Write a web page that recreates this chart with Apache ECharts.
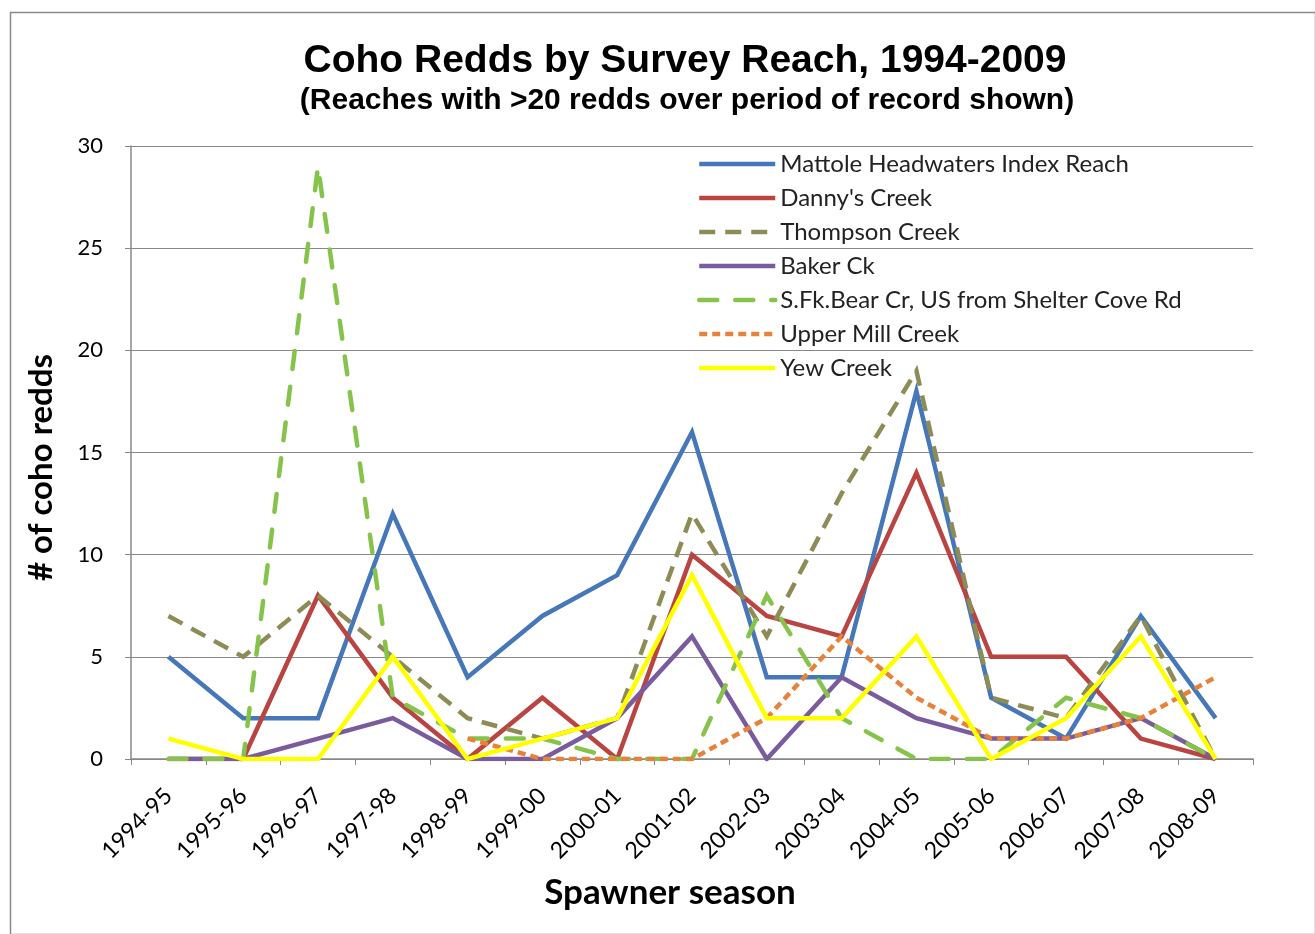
<!DOCTYPE html>
<html>
<head>
<meta charset="utf-8">
<script src="https://cdn.jsdelivr.net/npm/echarts@6/dist/echarts.min.js"></script>
<style>
  html, body { margin: 0; padding: 0; background: #fff; }
  #chart { width: 1315px; height: 934px; }
</style>
</head>
<body>
<div id="chart"></div>
<script>
// Spawner seasons along the x axis
const seasons = ['1994-95', '1995-96', '1996-97', '1997-98', '1998-99', '1999-00', '2000-01',
  '2001-02', '2002-03', '2003-04', '2004-05', '2005-06', '2006-07', '2007-08', '2008-09'];

// Coho redd counts per survey reach
const mattole   = [5, 2, 2, 12, 4, 7, 9, 16, 4, 4, 18, 3, 1, 7, 2];
const dannys    = [0, 0, 8, 3, 0, 3, 0, 10, 7, 6, 14, 5, 5, 1, 0];
const thompson  = [7, 5, 8, 5, 2, 1, 2, 12, 6, 13, 19, 3, 2, 7, 0];
const baker     = [0, 0, 1, 2, 0, 0, 2, 6, 0, 4, 2, 1, 1, 2, 0];
const sfkBear   = [0, 0, 29, 3, 1, 1, 0, 0, 8, 2, 0, 0, 3, 2, 0];
const upperMill = [null, null, null, null, 1, 0, 0, 0, 2, 6, 3, 1, 1, 2, 4];
const yew       = [1, 0, 0, 5, 0, 1, 2, 9, 2, 2, 6, 0, 2, 6, 0];

const yTicks = { min: 0, max: 30, interval: 5 };

function line(name, data, color, type, cap) {
  return {
    name: name,
    type: 'line',
    data: data,
    symbol: 'none',
    connectNulls: false,
    lineStyle: { color: color, width: 4.5, type: type, cap: cap || 'butt', join: 'miter' },
    itemStyle: { color: color },
    emphasis: { disabled: true }
  };
}

const chart = echarts.init(document.getElementById('chart'), null, { renderer: 'canvas' });
chart.setOption({
  animation: false,
  backgroundColor: '#fff',
  textStyle: { fontFamily: 'Lato' },
  title: [
    {
      text: 'Coho Redds by Survey Reach, 1994-2009',
      left: 680, top: 37, textAlign: 'center',
      textStyle: { fontSize: 39, fontWeight: 'bold', color: '#000', fontFamily: 'Liberation Sans' }
    },
    {
      text: '(Reaches with >20 redds over period of record shown)',
      left: 682, top: 81, textAlign: 'center',
      textStyle: { fontSize: 30, fontWeight: 'bold', color: '#000', fontFamily: 'Liberation Sans' }
    }
  ],
  legend: {
    orient: 'vertical',
    left: 692, top: 147,
    itemWidth: 76, itemHeight: 22, itemGap: 10,
    itemStyle: { opacity: 0 },
    lineStyle: { width: 4.5 },
    textStyle: { fontSize: 24, lineHeight: 22, color: '#222', fontFamily: 'Lato' },
    data: ['Mattole Headwaters Index Reach', "Danny's Creek", 'Thompson Creek', 'Baker Ck',
      'S.Fk.Bear Cr, US from Shelter Cove Rd', 'Upper Mill Creek', 'Yew Creek']
  },
  grid: { left: 131, right: 62, top: 146, bottom: 175, containLabel: false },
  xAxis: {
    type: 'category',
    data: seasons,
    boundaryGap: true,
    name: 'Spawner season',
    nameLocation: 'middle',
    nameGap: 116,
    nameTextStyle: { fontSize: 35, fontWeight: 'bold', color: '#000', fontFamily: 'Lato', padding: [0, 44, 0, 0] },
    axisLine: { lineStyle: { color: '#888', width: 1.5 } },
    axisTick: { show: true, length: 6, lineStyle: { color: '#888' } },
    axisLabel: { rotate: 45, fontSize: 23, color: '#000', margin: 33, fontFamily: 'Lato' }
  },
  yAxis: {
    type: 'value',
    min: yTicks.min, max: yTicks.max, interval: yTicks.interval,
    name: '# of coho redds',
    nameLocation: 'middle',
    nameGap: 73,
    nameRotate: 90,
    nameTextStyle: { fontSize: 33, fontWeight: 'bold', color: '#000', fontFamily: 'Lato', padding: [0, 30, 0, 0] },
    axisLine: { show: true, lineStyle: { color: '#888', width: 1.5 } },
    axisTick: { show: true, length: 6, lineStyle: { color: '#888' } },
    axisLabel: { fontSize: 22, color: '#000', margin: 28, fontFamily: 'Lato' },
    splitLine: { lineStyle: { color: '#888', width: 1.2 } }
  },
  graphic: [
    {
      type: 'rect', left: 8, top: 10, z: -1,
      shape: { width: 1305, height: 922 },
      style: { fill: 'none', stroke: '#8a8a8a', lineWidth: 1.5 }
    }
  ],
  series: [
    line('Mattole Headwaters Index Reach', mattole, '#4677b8', 'solid'),
    line("Danny's Creek", dannys, '#b94441', 'solid'),
    line('Thompson Creek', thompson, '#8e8c56', [16, 10]),
    line('Baker Ck', baker, '#7a5c9e', 'solid'),
    line('S.Fk.Bear Cr, US from Shelter Cove Rd', sfkBear, '#86c34a', [18, 18], 'round'),
    line('Upper Mill Creek', upperMill, '#e8823a', [8, 5]),
    line('Yew Creek', yew, '#ffff00', 'solid')
  ]
});
</script>
</body>
</html>
